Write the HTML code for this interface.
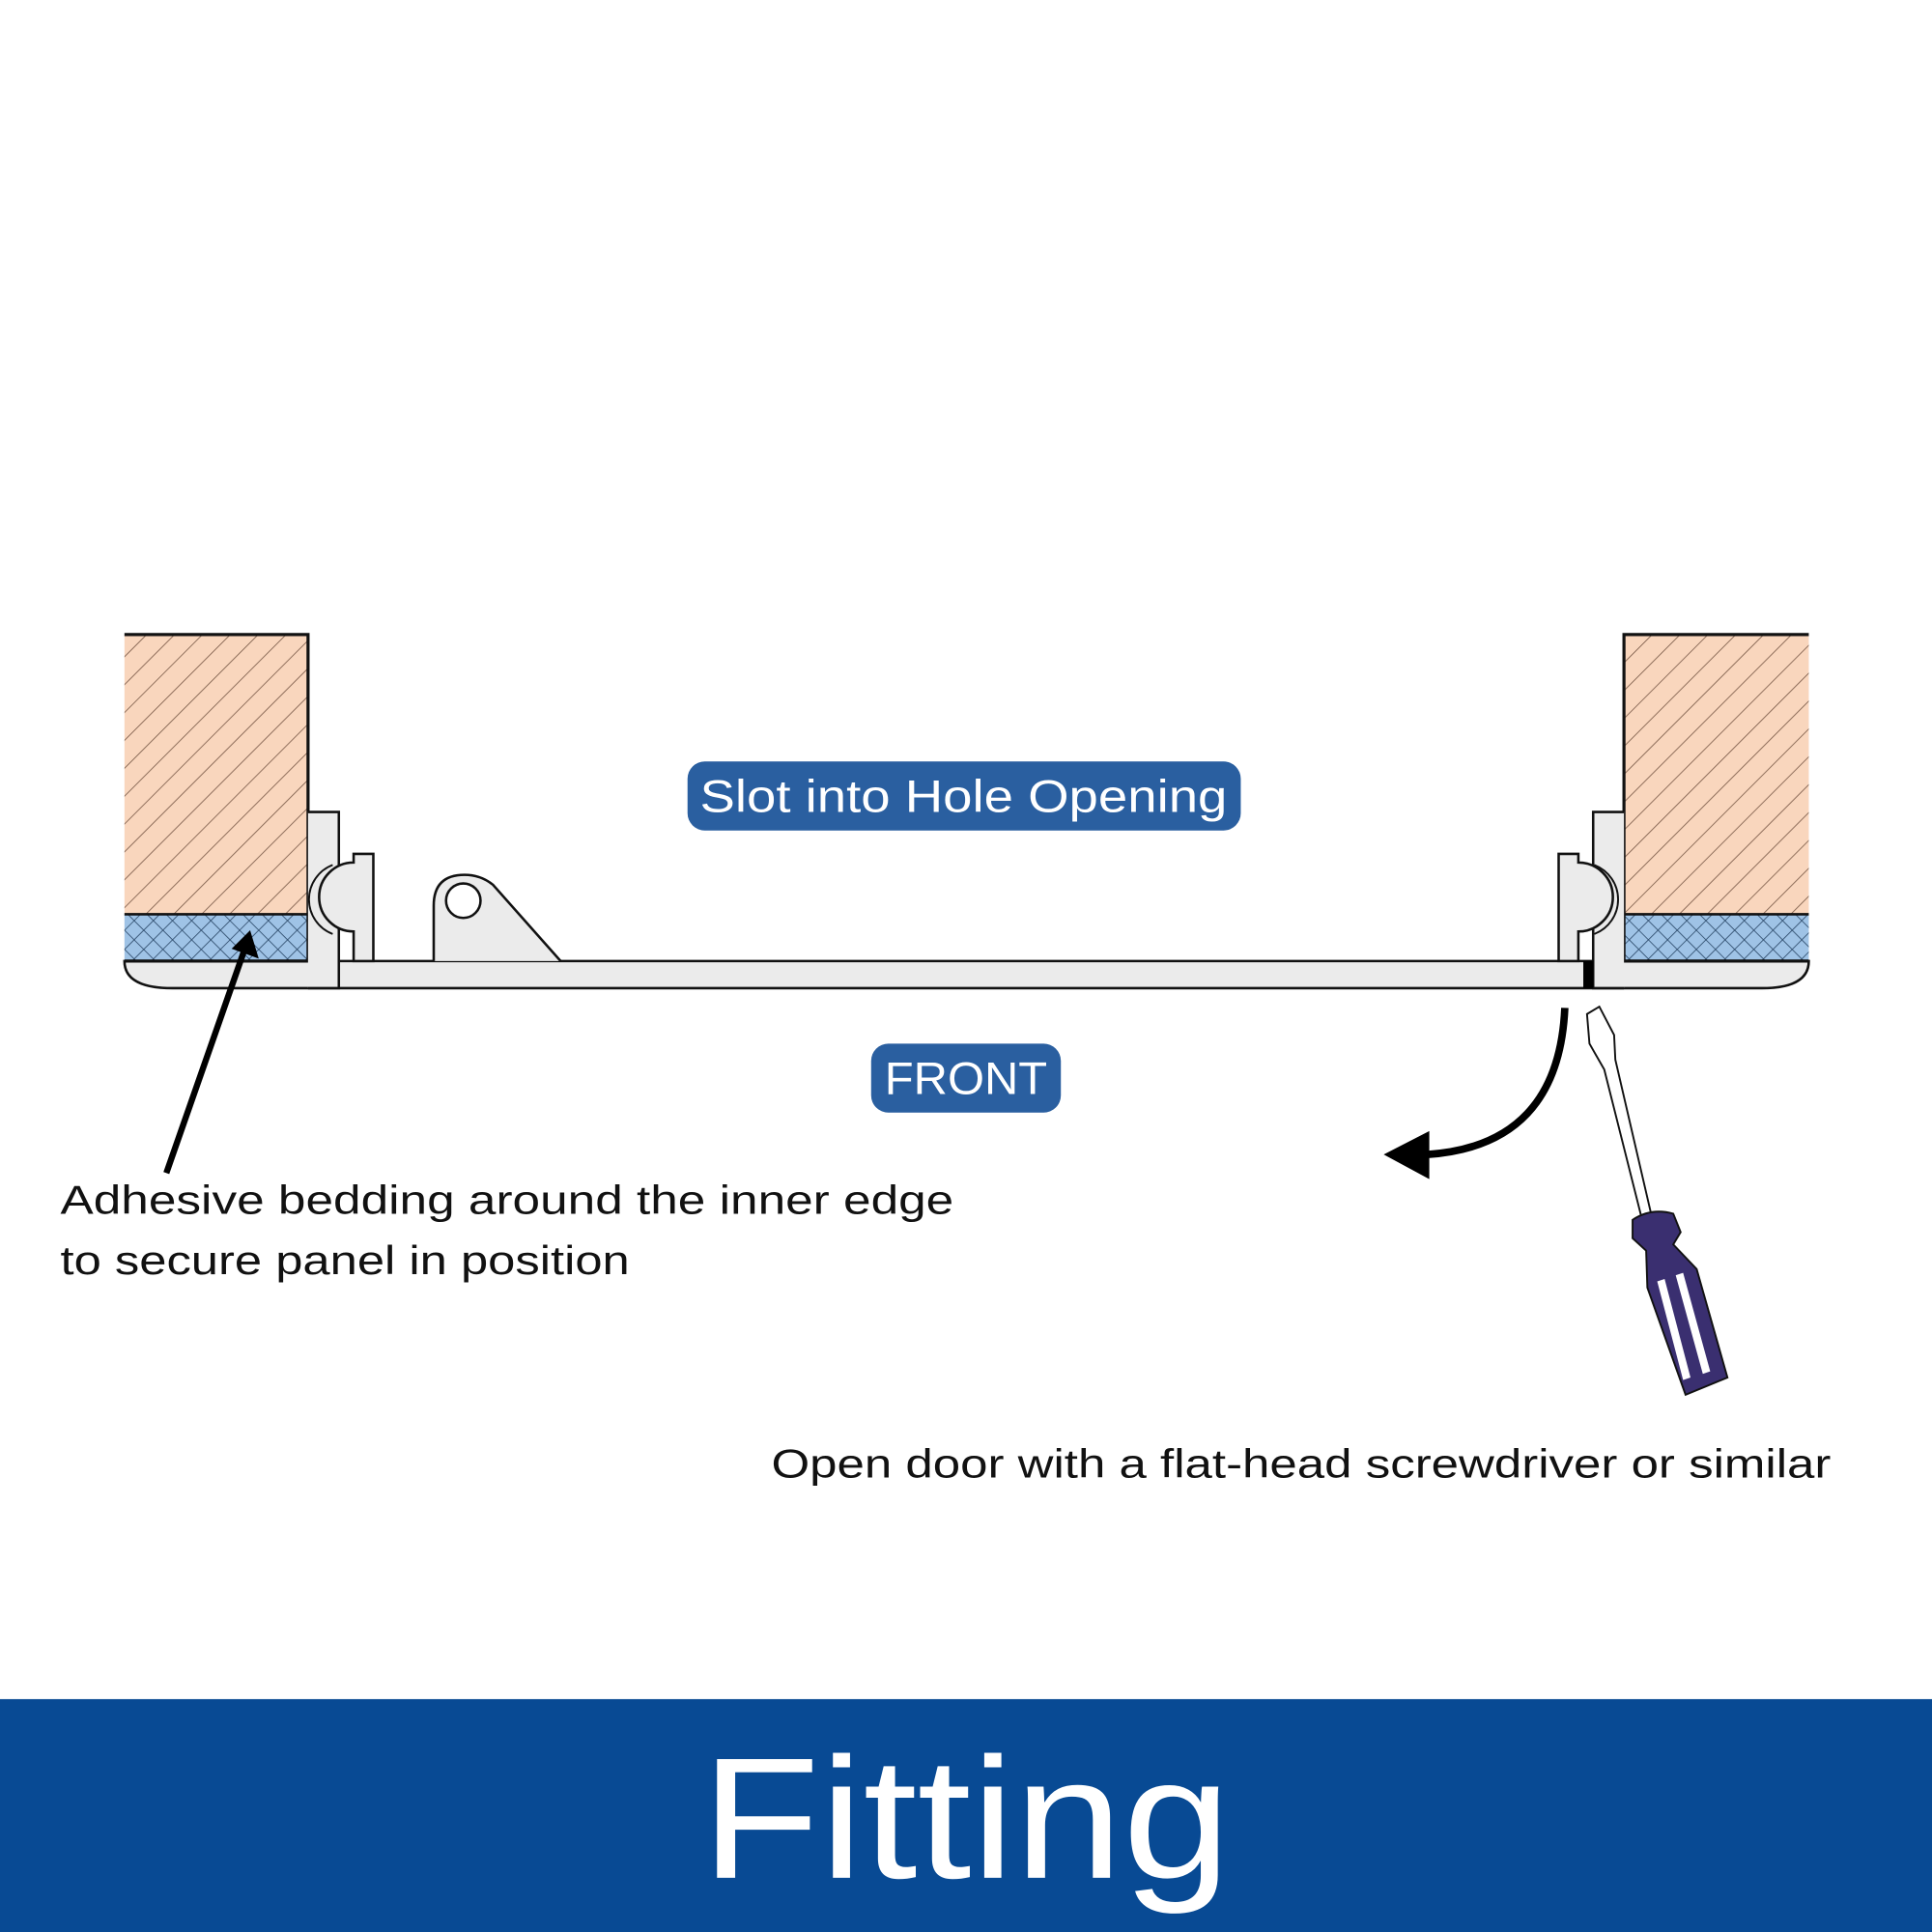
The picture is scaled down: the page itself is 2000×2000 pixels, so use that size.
<!DOCTYPE html>
<html><head><style>html,body{margin:0;padding:0;background:#fff}svg{display:block}</style></head>
<body>
<svg width="2000" height="2000" viewBox="0 0 1568 1568" xmlns="http://www.w3.org/2000/svg" font-family="Liberation Sans, sans-serif">
<defs>
<pattern id="h" patternUnits="userSpaceOnUse" width="16" height="16" patternTransform="rotate(45)">
<rect width="16" height="16" fill="#f9d6bd"/><line x1="0" y1="0" x2="0" y2="16" stroke="#7a5a48" stroke-width="1.3"/></pattern>
<pattern id="x" patternUnits="userSpaceOnUse" width="11" height="11" patternTransform="rotate(45)">
<rect width="11" height="11" fill="#9fc3e6"/><line x1="0" y1="0" x2="0" y2="11" stroke="#2c4a6a" stroke-width="1.3"/><line x1="0" y1="0" x2="11" y2="0" stroke="#2c4a6a" stroke-width="1.3"/></pattern>
</defs>
<rect width="1568" height="1568" fill="#fff"/>
<!-- panel bar -->
<path d="M101,780 H1468 Q1468,802 1430,802 H140 Q101,802 101,780 Z" fill="#ebebeb" stroke="#111" stroke-width="2"/>
<!-- walls -->
<rect x="101" y="515" width="149" height="227" fill="url(#h)"/>
<rect x="101" y="742" width="149" height="38" fill="url(#x)"/>
<path d="M101,515 H250 V780 H101" fill="none" stroke="#111" stroke-width="2.5"/>
<line x1="101" y1="742" x2="250" y2="742" stroke="#111" stroke-width="2"/>
<rect x="1318" y="515" width="150" height="227" fill="url(#h)"/>
<rect x="1318" y="742" width="150" height="38" fill="url(#x)"/>
<path d="M1468,515 H1318 V780 H1468" fill="none" stroke="#111" stroke-width="2.5"/>
<line x1="1318" y1="742" x2="1468" y2="742" stroke="#111" stroke-width="2"/>
<!-- frames -->
<path d="M250,659 H275 V802 H250" fill="#ebebeb" stroke="#111" stroke-width="2"/>
<path d="M1318,659 H1293 V802 H1318" fill="#ebebeb" stroke="#111" stroke-width="2"/>
<!-- left hinge -->
<path d="M287,780 V756 A28,28 0 0 1 287,700 V693 H303 V780 Z" fill="#ebebeb" stroke="#111" stroke-width="2"/>
<path d="M270,702 A30,30 0 0 0 270,758" fill="none" stroke="#111" stroke-width="1.5"/>
<!-- lug -->
<path d="M352,780 V735 Q352,710 377,710 Q390,710 400,718 L455,780" fill="#ebebeb" stroke="#111" stroke-width="2"/>
<circle cx="376" cy="731" r="14" fill="#fff" stroke="#111" stroke-width="2"/>
<!-- right hinge -->
<path d="M1265,780 V693 H1281 V700 A28,28 0 0 1 1281,756 V780 Z" fill="#ebebeb" stroke="#111" stroke-width="2"/>
<path d="M1294,702 A30,30 0 0 1 1294,758" fill="none" stroke="#111" stroke-width="1.5"/>
<rect x="1285" y="780" width="8" height="22" fill="#000"/>
<!-- left arrow -->
<line x1="135" y1="952" x2="198" y2="772" stroke="#000" stroke-width="5"/>
<path d="M203,755 L210,778 L188,770 Z" fill="#000"/>
<!-- curved arrow -->
<path d="M1270,818 Q1265,930 1158,937" fill="none" stroke="#000" stroke-width="6"/>
<path d="M1123,937 L1160,918 L1160,957 Z" fill="#000"/>
<!-- screwdriver -->
<path d="M1288,823 L1298,817 L1310,840 L1311,860 L1340,985 L1332,987 L1302,868 L1290,847 Z" fill="#fff" stroke="#111" stroke-width="1.5"/>
<path d="M1325,990 Q1340,980 1358,985 L1364,1000 L1358,1010 L1377,1030 L1402,1118 L1368,1132 L1337,1045 L1336,1015 L1325,1005 Z" fill="#3a2f70" stroke="#111" stroke-width="1.5"/>
<path d="M1345,1040 L1351,1038 L1372,1118 L1366,1120 Z M1360,1035 L1366,1033 L1388,1113 L1382,1115 Z" fill="#fff"/>
<!-- pills -->
<rect x="558" y="618" width="449" height="56" rx="14" fill="#2a5fa0"/>
<text x="782" y="659" font-size="37" fill="#fff" text-anchor="middle" textLength="428" lengthAdjust="spacingAndGlyphs">Slot into Hole Opening</text>
<rect x="707" y="847" width="154" height="56" rx="14" fill="#2a5fa0"/>
<text x="784" y="888" font-size="37" fill="#fff" text-anchor="middle" textLength="132" lengthAdjust="spacingAndGlyphs">FRONT</text>
<text x="49" y="985" font-size="33" fill="#111" textLength="725" lengthAdjust="spacingAndGlyphs">Adhesive bedding around the inner edge</text>
<text x="49" y="1034" font-size="33" fill="#111" textLength="462" lengthAdjust="spacingAndGlyphs">to secure panel in position</text>
<text x="626" y="1199" font-size="33" fill="#111" textLength="860" lengthAdjust="spacingAndGlyphs">Open door with a flat-head screwdriver or similar</text>
<rect x="0" y="1379" width="1568" height="189" fill="#084a94"/>
<text x="784" y="1524" font-size="140" fill="#fff" text-anchor="middle" textLength="430" lengthAdjust="spacingAndGlyphs">Fitting</text>
</svg>
</body></html>
